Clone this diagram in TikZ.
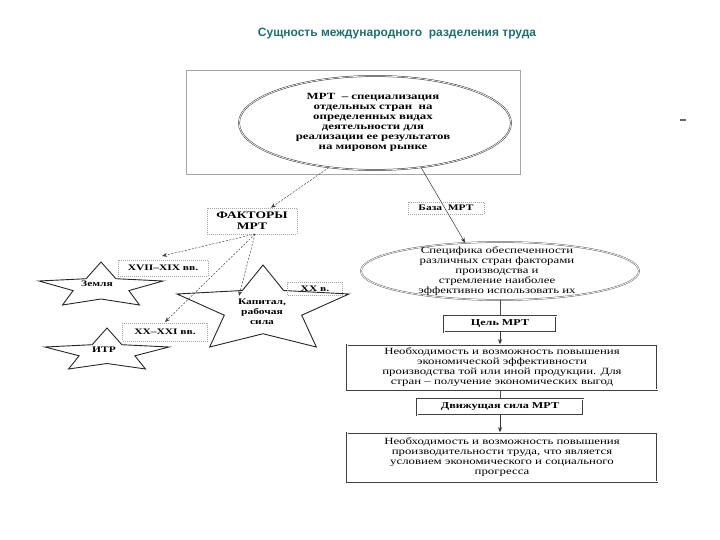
\documentclass[tikz,border=0pt]{standalone}
\usepackage{fontspec}
\setmainfont{Liberation Serif}
\newfontfamily\scan[FakeStretch=1.35]{Liberation Serif}
\newfontfamily\titlefont{Liberation Sans}
\usetikzlibrary{arrows.meta,shapes.geometric,calc}
\definecolor{tealtitle}{RGB}{31,111,111}
\newcommand\mystarshape[6]{%
  \draw[#6] (#1,{#2-#4}) -- ({#1+0.24*#3},{#2-0.12*#4}) -- ({#1+#3},#2)
    -- ({#1+0.45*#3},{#2+0.4*#5}) -- ({#1+0.62*#3},{#2+#5}) -- (#1,{#2+0.75*#5})
    -- ({#1-0.62*#3},{#2+#5}) -- ({#1-0.45*#3},{#2+0.4*#5}) -- ({#1-#3},#2)
    -- ({#1-0.24*#3},{#2-0.12*#4}) -- cycle;}
\begin{document}
\begin{tikzpicture}[x=1pt,y=-1pt,
  frame/.style={draw=black!35, line width=0.4pt},
  ell/.style={ellipse, draw=black!80, double=white, double distance=0.7pt, line width=0.5pt, inner sep=0pt},
  dbox/.style={rectangle, draw=black!75, double=white, double distance=0.9pt, line width=0.55pt, inner sep=0pt, align=center},
  dotbox/.style={rectangle, draw=black!35, dash pattern=on 1pt off 1pt, line width=0.5pt, inner sep=0pt, align=center},
  dasharrow/.style={draw=black!75, dash pattern=on 2pt off 1.5pt, line width=0.5pt, -{Stealth[length=5pt,width=4pt]}},
  solidarrow/.style={draw=black!80, line width=0.5pt, -{Stealth[length=5pt,width=4pt]}},
  starline/.style={draw=black!85, line width=0.9pt, line join=miter},
  txt/.style={align=center, inner sep=0pt, font=\scan\fontsize{9.5}{10}\selectfont},
  btxt/.style={align=center, inner sep=0pt, font=\scan\bfseries\fontsize{9}{10}\selectfont},
  stxt/.style={align=center, inner sep=0pt, font=\scan\bfseries\fontsize{8.5}{10}\selectfont}]
\useasboundingbox (0,0) rectangle (720,540);

% title
\node[font=\titlefont\bfseries\fontsize{12}{14}\selectfont, text=tealtitle] (title) at (397,34) {Сущность международного \ разделения труда};

% top frame and ellipse
\node[frame, minimum width=334pt, minimum height=104pt] (frame) at (353,122) {};
\node[ell, minimum width=272pt, minimum height=94pt] (topell) at (375,123) {};
\node[btxt, font=\scan\bfseries\fontsize{9.5}{10}\selectfont] (toptxt) at (373,122) {МРТ \ – специализация\\отдельных стран \ на\\определенных видах\\деятельности для\\реализации ее результатов\\на мировом рынке};

% factors
\node[dotbox, minimum width=90pt, minimum height=26pt, btxt, font=\scan\bfseries\fontsize{10}{11}\selectfont] (fact) at (252,221) {ФАКТОРЫ\\МРТ};
\node[dotbox, minimum width=76pt, minimum height=12pt, stxt] (baza) at (446,208) {База \ МРТ};

% specifics ellipse
\node[ell, draw=black!60, minimum width=278pt, minimum height=58pt] (spec) at (500,271) {};
\node[txt] (spectxt) at (497,271) {Специфика обеспеченности\\различных стран факторами\\производства и\\стремление наиболее\\эффективно использовать их};

% right column boxes
\node[dbox, minimum width=112pt, minimum height=16pt, btxt] (goal) at (500,324) {Цель МРТ};
\node[dbox, minimum width=310pt, minimum height=45pt, txt] (need1) at (502,367) {Необходимость и возможность повышения\\экономической эффективности\\производства той или иной продукции. Для\\стран – получение экономических выгод};
\node[dbox, minimum width=166pt, minimum height=16pt, btxt] (force) at (500,407) {Движущая сила МРТ};
\node[dbox, minimum width=310pt, minimum height=49pt, txt] (need2) at (502,457) {Необходимость и возможность повышения\\производительности труда, что является\\условием экономического и социального\\прогресса};

% stars
\mystarshape{101}{281}{62}{19}{24}{starline}
\mystarshape{107}{347}{62}{19}{22}{starline}
\mystarshape{263}{294}{86}{29}{53}{starline}
\node[stxt] (zemlya) at (97,284) {Земля};
\node[stxt] (itr) at (104,350) {ИТР};
\node[stxt] (kap) at (262,312) {Капитал,\\рабочая\\сила};

% era labels
\node[dotbox, minimum width=90pt, minimum height=16pt, stxt] (era1) at (163,268) {XVII–XIX вв.};
\node[dotbox, minimum width=85pt, minimum height=18pt, stxt] (era2) at (165,332) {XX–XXI вв.};
\node[dotbox, minimum width=55pt, minimum height=13pt, stxt] (era3) at (315,289) {XX в.};

% connector end points
\coordinate (fs) at (255,234);
\coordinate (tz) at (162,256);
\coordinate (tk) at (239,296);
\coordinate (ti) at (165,322);

% connectors
\draw[dasharrow] (topell.224) -- (fact.35);
\draw[solidarrow] (topell.316) -- (spec.141);
\draw[dasharrow] (fs) -- (tz);
\draw[dasharrow] (fs) -- (tk);
\draw[dasharrow] (fs) -- (ti);
\draw[draw=black!70, line width=0.5pt] (spec.south) -- (goal.north);
\draw[solidarrow] (goal.south) -- (goal.south |- need1.north);
\draw[draw=black!70, line width=0.5pt] (force.north |- need1.south) -- (force.north);
\draw[solidarrow] (force.south) -- (force.south |- need2.north);

% small mark
\draw[black!60, line width=1.2pt] (680,120) -- (686,120);
\end{tikzpicture}
\end{document}
